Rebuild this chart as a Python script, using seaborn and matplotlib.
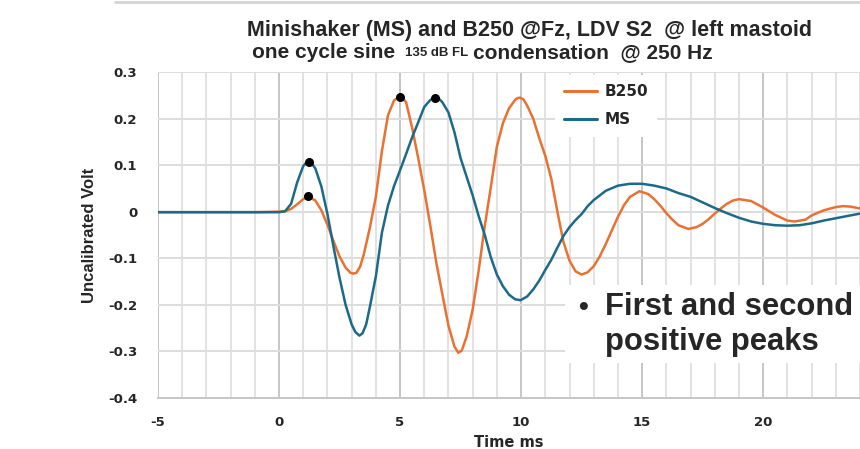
import numpy as np
import pandas as pd
import matplotlib
matplotlib.use("Agg")
import matplotlib.pyplot as plt
from matplotlib.ticker import MultipleLocator
from matplotlib.lines import Line2D
from matplotlib.patches import Rectangle
import seaborn as sns

# values (time in ms, uncalibrated volt)
t_b250 = [-5, -4, -3, -2, -1, 0, 0.25, 0.5, 0.75, 1.0, 1.21, 1.5, 1.75, 2.0, 2.25, 2.5, 2.75, 2.95,
          3.07, 3.2, 3.35, 3.5, 3.75, 4.0, 4.25, 4.5, 4.75, 4.88, 5.0, 5.12, 5.25, 5.5, 5.75, 6.0, 6.25,
          6.5, 6.75, 7.0, 7.25, 7.41, 7.55, 7.75, 8.0, 8.25, 8.5, 8.75, 9.0, 9.25, 9.5, 9.75, 9.85, 9.96,
          10.1, 10.25, 10.5, 10.75, 11.0, 11.25, 11.5, 11.75, 12.0, 12.25, 12.5, 12.75, 13.0, 13.25,
          13.5, 13.75, 14.0, 14.25, 14.5, 14.89, 15.25, 15.5, 15.75, 16.0, 16.25, 16.5, 16.91, 17.25,
          17.5, 17.75, 18.0, 18.25, 18.5, 18.75, 19.0, 19.5, 20.0, 20.5, 21.0, 21.3, 21.75, 22.0, 22.5,
          23.0, 23.3, 23.6, 24.0]
v_b250 = [-0.001, -0.001, -0.001, -0.001, -0.001, 0.0, 0.001, 0.006, 0.016, 0.027, 0.033, 0.024, 0.003,
          -0.028, -0.063, -0.096, -0.120, -0.131, -0.133, -0.131, -0.118, -0.092, -0.035, 0.032, 0.130,
          0.207, 0.239, 0.244, 0.246, 0.243, 0.235, 0.180, 0.115, 0.046, -0.030, -0.110, -0.178, -0.245,
          -0.290, -0.303, -0.298, -0.268, -0.210, -0.125, -0.030, 0.053, 0.140, 0.190, 0.222, 0.240,
          0.244, 0.245, 0.241, 0.228, 0.200, 0.158, 0.120, 0.070, 0.000, -0.065, -0.105, -0.128, -0.135,
          -0.130, -0.117, -0.096, -0.069, -0.040, -0.011, 0.014, 0.032, 0.044, 0.038, 0.027, 0.013,
          -0.003, -0.017, -0.029, -0.037, -0.033, -0.026, -0.016, -0.004, 0.007, 0.017, 0.024, 0.027,
          0.023, 0.009, -0.007, -0.019, -0.021, -0.017, -0.008, 0.003, 0.010, 0.012, 0.011, 0.007]

t_ms = [-5, -4, -3, -2, -1, 0, 0.25, 0.5, 0.75, 1.0, 1.12, 1.24, 1.36, 1.5, 1.75, 2.0, 2.25, 2.5, 2.75,
        3.0, 3.15, 3.32, 3.45, 3.6, 3.75, 4.0, 4.25, 4.5, 4.75, 5.0, 5.25, 5.5, 5.75, 6.0, 6.25, 6.46,
        6.6, 6.75, 7.0, 7.25, 7.5, 7.75, 8.0, 8.25, 8.5, 8.75, 9.0, 9.25, 9.5, 9.75, 9.98, 10.25, 10.5,
        10.75, 11.0, 11.25, 11.5, 11.75, 12.0, 12.25, 12.5, 12.75, 13.0, 13.5, 14.0, 14.5, 15.0, 15.5,
        16.0, 16.5, 17.0, 17.5, 18.0, 18.5, 19.0, 19.5, 20.0, 20.5, 21.0, 21.5, 22.0, 22.5, 23.0, 23.5,
        24.0]
v_ms = [-0.001, -0.001, -0.001, -0.001, -0.001, -0.001, 0.001, 0.017, 0.063, 0.098, 0.105, 0.107, 0.103,
        0.093, 0.054, -0.005, -0.075, -0.142, -0.200, -0.242, -0.258, -0.266, -0.261, -0.242, -0.205,
        -0.139, -0.045, 0.013, 0.055, 0.089, 0.124, 0.160, 0.192, 0.225, 0.240, 0.245, 0.243, 0.235,
        0.213, 0.170, 0.115, 0.075, 0.035, -0.010, -0.050, -0.098, -0.135, -0.160, -0.178, -0.188,
        -0.190, -0.182, -0.167, -0.148, -0.125, -0.103, -0.077, -0.052, -0.033, -0.018, -0.005, 0.012,
        0.025, 0.045, 0.056, 0.060, 0.060, 0.056, 0.050, 0.040, 0.032, 0.020, 0.008, -0.003, -0.013,
        -0.021, -0.026, -0.029, -0.030, -0.029, -0.025, -0.019, -0.014, -0.009, -0.004]

# first and second positive peaks (black dots)
peak_t = [1.21, 1.24, 5.0, 6.46]
peak_v = [0.033, 0.107, 0.246, 0.245]

series_names = ["B250", "MS"]
colors = {"B250": "#E97132", "MS": "#1B6A8A"}

df = pd.concat([
    pd.DataFrame({"Time": t_b250, "Volt": v_b250, "Source": "B250"}),
    pd.DataFrame({"Time": t_ms, "Volt": v_ms, "Source": "MS"}),
])

sns.set_style("white")
plt.rcParams["axes.unicode_minus"] = False
arial = ["Liberation Sans", "DejaVu Sans"]

fig = plt.figure(figsize=(8.6, 4.49), dpi=100)
ax = fig.add_axes([0.1837, 0.1136, 0.8163, 0.726])

sns.lineplot(data=df, x="Time", y="Volt", hue="Source", hue_order=series_names,
             palette=colors, linewidth=1.8, ax=ax, sort=False, estimator=None, zorder=3)
ax.scatter(peak_t, peak_v, s=30, color="black", zorder=4)

ax.set_xlim(-5, 24)
ax.set_ylim(-0.4, 0.3)
ax.xaxis.set_major_locator(MultipleLocator(5))
ax.xaxis.set_minor_locator(MultipleLocator(1))
ax.set_yticks(np.arange(-0.4, 0.31, 0.1))
ax.set_yticklabels(["-0.4", "-0.3", "-0.2", "-0.1", "0", "0.1", "0.2", "0.3"])

ax.grid(axis="x", which="minor", color="#e2e2e2", linewidth=1.4, zorder=0)
ax.grid(axis="x", which="major", color="#c6c6c6", linewidth=1.4, zorder=0)
ax.grid(axis="y", which="major", color="#dddddd", linewidth=1.4, zorder=0)
ax.set_axisbelow(True)

for side in ["left", "right", "top"]:
    ax.spines[side].set_visible(False)
ax.spines["bottom"].set_color("#c6c6c6")
ax.spines["bottom"].set_linewidth(1.4)

ax.tick_params(axis="y", length=5, color="#d0d0d0", width=1.2, pad=10, labelsize=9.5)
ax.tick_params(axis="x", which="major", length=4, color="#c6c6c6", width=1.2, pad=9, labelsize=9.5)
ax.tick_params(axis="x", which="minor", length=0)
for lab in ax.get_xticklabels() + ax.get_yticklabels():
    lab.set_fontweight("bold")
    lab.set_color("#262626")

ax.set_xlabel("Time ms", fontsize=10.5, fontweight="bold", color="#262626", labelpad=4)
ax.set_ylabel("Uncalibrated Volt", fontsize=12, fontweight="bold", family=arial,
              color="#262626", labelpad=8)

# legend
leg = ax.legend(loc="upper left", bbox_to_anchor=(0.566, 0.99), frameon=True,
                framealpha=1, edgecolor="white", facecolor="white", fontsize=11,
                handlelength=2.1, handletextpad=0.5, borderpad=0.6, labelspacing=0.85,
                borderaxespad=0)
for txt in leg.get_texts():
    txt.set_fontweight("bold")
leg.set_zorder(6)
leg.get_frame().set_linewidth(0)
for line in leg.get_lines():
    line.set_linewidth(2.2)

# titles
fig.text(0.616, 0.933, "Minishaker (MS) and B250 @Fz, LDV S2  @ left mastoid", ha="center",
         va="center", fontsize=15.5, fontweight="bold", family=arial, color="#262626")
fig.text(0.466, 0.883, "one cycle sine ", ha="right", va="center", fontsize=15,
         fontweight="bold", family=arial, color="#262626")
fig.text(0.508, 0.881, "135 dB FL", ha="center", va="center", fontsize=9.5,
         fontweight="bold", family=arial, color="#262626")
fig.text(0.550, 0.883, "condensation  @ 250 Hz", ha="left", va="center", fontsize=15,
         fontweight="bold", family=arial, color="#262626")

# annotation box (white panel hides the grid behind it)
fig.add_artist(Rectangle((0.657, 0.1915), 0.343, 0.1737, transform=fig.transFigure,
                         facecolor="white", edgecolor="none", zorder=5))
fig.text(0.672, 0.314, "\u2022", fontsize=20, fontweight="bold", ha="left", va="center",
         family=arial, zorder=7)
fig.text(0.703, 0.35, "First and second\npositive peaks", fontsize=22.3, fontweight="bold",
         family=arial, ha="left", va="top", linespacing=1.22, zorder=7)

# frame line at top of slide
fig.add_artist(Line2D([0.134, 1.0], [0.995, 0.995], color="#d4d4d4", linewidth=2,
                      transform=fig.transFigure))

fig.savefig("out.png", dpi=100)
